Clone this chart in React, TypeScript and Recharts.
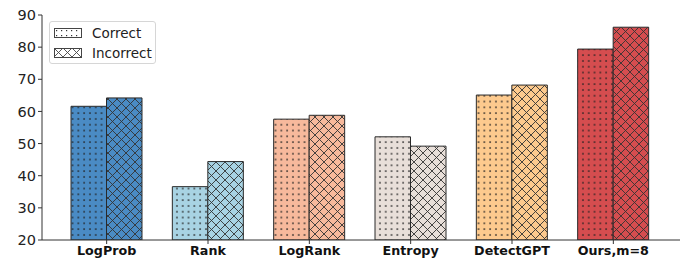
import { BarChart, Bar, XAxis, YAxis, Cell } from "recharts"

const methods = ["LogProb", "Rank", "LogRank", "Entropy", "DetectGPT", "Ours,m=8"]
const correct = [61.6, 36.6, 57.6, 52.1, 65.1, 79.4]
const incorrect = [64.2, 44.4, 58.8, 49.2, 68.2, 86.2]
const yTicks = [20, 30, 40, 50, 60, 70, 80, 90]

const colors = ["#4a8bc4", "#a8d3e3", "#f7b99c", "#e8dfd9", "#fdca8e", "#d54d4f"]

const data = methods.map((m, i) => ({ name: m, correct: correct[i], incorrect: incorrect[i] }))

const font = "'DejaVu Sans', sans-serif"

function Patterns() {
  return (
    <defs>
      {colors.map((c, i) => (
        <pattern key={`d${i}`} id={`dots-${i}`} patternUnits="userSpaceOnUse" width={5.8} height={5.8}>
          <rect width={5.8} height={5.8} fill={c} />
          <rect x={2.2} y={2.2} width={1.5} height={1.5} fill="#222" />
        </pattern>
      ))}
      {colors.map((c, i) => (
        <pattern key={`x${i}`} id={`cross-${i}`} patternUnits="userSpaceOnUse" width={9} height={9}>
          <rect width={9} height={9} fill={c} />
          <path d="M0,0 L9,9 M0,9 L9,0" stroke="#333" strokeWidth={0.9} />
        </pattern>
      ))}
    </defs>
  )
}

function Legend() {
  const rows = [
    { label: "Correct", fill: "url(#legend-dots)" },
    { label: "Incorrect", fill: "url(#legend-cross)" },
  ]
  return (
    <div
      style={{
        position: "absolute",
        left: 49,
        top: 21,
        width: 105,
        height: 41,
        border: "1px solid #d6d6d6",
        borderRadius: 3,
        background: "rgba(255,255,255,0.85)",
        fontFamily: font,
        fontSize: 13.5,
        color: "#222",
      }}
    >
      <svg width={0} height={0} style={{ position: "absolute" }}>
        <defs>
          <pattern id="legend-dots" patternUnits="userSpaceOnUse" width={5} height={5}>
            <rect width={5} height={5} fill="#fff" />
            <rect x={2} y={2} width={1.2} height={1.2} fill="#333" />
          </pattern>
          <pattern id="legend-cross" patternUnits="userSpaceOnUse" width={9} height={9}>
            <rect width={9} height={9} fill="#fff" />
            <path d="M0,0 L9,9 M0,9 L9,0" stroke="#444" strokeWidth={0.9} />
          </pattern>
        </defs>
      </svg>
      {rows.map((r, i) => (
        <div key={r.label} style={{ position: "absolute", left: 4, top: 2 + i * 19.5, display: "flex", alignItems: "center", height: 18 }}>
          <svg width={28} height={10}>
            <rect x={0.5} y={0.5} width={27} height={9} fill={r.fill} stroke="#444" strokeWidth={1} />
          </svg>
          <span style={{ marginLeft: 10 }}>{r.label}</span>
        </div>
      ))}
    </div>
  )
}

export default function App() {
  return (
    <div style={{ position: "fixed", left: 0, top: 0, width: 682, height: 263, background: "#fff" }}>
      <BarChart
        width={682}
        height={263}
        data={data}
        margin={{ top: 15, right: 2, left: 0, bottom: 0 }}
        barGap={0}
        barSize={35.5}
      >
        <Patterns />
        <XAxis
          dataKey="name"
          height={23}
          padding={{ left: 14, right: 16 }}
          axisLine={{ stroke: "#333", strokeWidth: 1 }}
          tickLine={{ stroke: "#333" }}
          tickSize={4}
          tick={{ fontSize: 12.7, fontWeight: "bold", fill: "#111", fontFamily: font }}
          interval={0}
        />
        <YAxis
          width={42}
          domain={[20, 90]}
          ticks={yTicks}
          allowDataOverflow
          axisLine={{ stroke: "#333", strokeWidth: 1 }}
          tickLine={{ stroke: "#333" }}
          tickSize={4}
          tick={{ fontSize: 14.5, fill: "#222", fontFamily: font }}
        />
        <Bar dataKey="correct" isAnimationActive={false} stroke="#2a2a2a" strokeWidth={1}>
          {data.map((_, i) => (
            <Cell key={i} fill={`url(#dots-${i})`} />
          ))}
        </Bar>
        <Bar dataKey="incorrect" isAnimationActive={false} stroke="#2a2a2a" strokeWidth={1}>
          {data.map((_, i) => (
            <Cell key={i} fill={`url(#cross-${i})`} />
          ))}
        </Bar>
      </BarChart>
      <Legend />
    </div>
  )
}
